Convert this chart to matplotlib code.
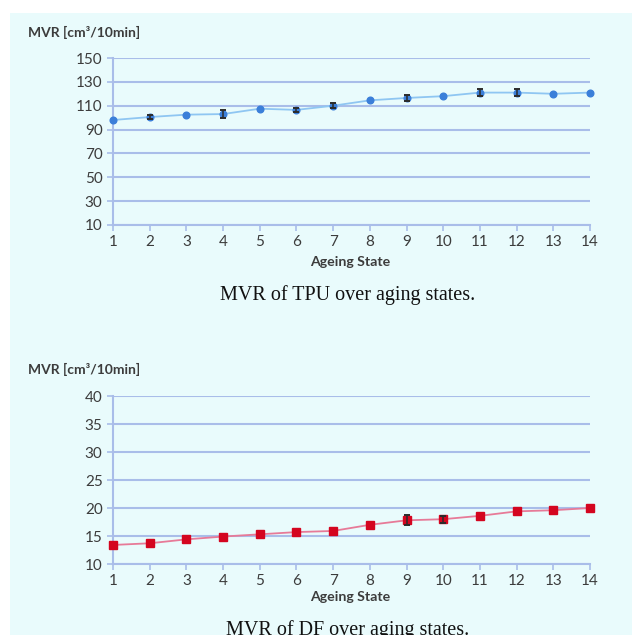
import matplotlib.pyplot as plt
from matplotlib.patches import Rectangle

# ageing states
states = list(range(1, 15))

# TPU melt volume rate and error bars (0 = no visible bar)
tpu_mvr = [98, 100.5, 102.5, 103, 107.5, 106.5, 110, 114.5, 116.5, 118, 121, 121, 120, 121]
tpu_err = [0, 2, 0, 3, 0, 2, 2, 0, 2.5, 0, 3, 3, 0, 0]

# DF melt volume rate and error bars
df_mvr = [13.4, 13.7, 14.4, 14.9, 15.3, 15.7, 15.9, 17.0, 17.8, 18.0, 18.6, 19.4, 19.6, 20.0]
df_err = [0, 0, 0, 0, 0, 0, 0, 0, 0.9, 0.6, 0, 0, 0, 0]

tpu_ticks = [10, 30, 50, 70, 90, 110, 130, 150]
df_ticks = [10, 15, 20, 25, 30, 35, 40]

bg = "#e9fbfc"
grid_col = "#a9bde9"
txt_col = "#3c3c3c"

fig = plt.figure(figsize=(6.32, 6.35), dpi=100)
fig.patches.append(Rectangle((10 / 632, 0), 1, 1 - 13 / 635, transform=fig.transFigure,
                             facecolor=bg, edgecolor="none", zorder=-10))


def draw_panel(rect, y, err, ticks, mcol, lcol, marker, ms, caption, label_y, xlab_y, cap_y):
    ax = fig.add_axes(rect)
    ax.set_facecolor("none")
    ax.plot(states, y, color=lcol, lw=1.3, zorder=2)
    ax.plot(states, y, ls="none", marker=marker, color=mcol, ms=ms, zorder=3, clip_on=False)
    # only the points that have a visible error bar
    idx = [i for i, e in enumerate(err) if e > 0]
    ax.errorbar([states[i] for i in idx], [y[i] for i in idx], yerr=[err[i] for i in idx],
                fmt="none", ecolor="#2b2b2b", elinewidth=1.1, capsize=2.5, capthick=1.4,
                zorder=4)
    ax.set_xlim(1, 14)
    ax.set_ylim(ticks[0], ticks[-1])
    ax.set_xticks(states)
    ax.set_yticks(ticks)
    ax.grid(axis="y", color=grid_col, lw=1.5)
    for s in ["top", "right"]:
        ax.spines[s].set_visible(False)
    for s in ["left", "bottom"]:
        ax.spines[s].set_color(grid_col)
        ax.spines[s].set_linewidth(1.5)
    ax.tick_params(colors=grid_col, labelcolor=txt_col, labelsize=11, length=4, width=1.2)
    for t in ax.get_xticklabels() + ax.get_yticklabels():
        t.set_family("Lato")
    fig.text(28 / 632, 1 - label_y / 635, "MVR [cm³/10min]", family="Lato", weight="bold",
             fontsize=10, color=txt_col, va="center")
    fig.text(350 / 632, 1 - xlab_y / 635, "Ageing State", family="Lato", weight="bold",
             fontsize=10.2, color=txt_col, ha="center", va="center")
    fig.text(348 / 632, 1 - cap_y / 635, caption, family="Liberation Serif",
             fontsize=14.5, color="#111111", ha="center", va="center")
    return ax


draw_panel([113 / 632, 1 - 225 / 635, 477 / 632, 167 / 635], tpu_mvr, tpu_err, tpu_ticks,
           "#3b7fd9", "#8fc6f2", "o", 4.8, "MVR of TPU over aging states.", 32, 262, 295)
draw_panel([113 / 632, 1 - 564 / 635, 477 / 632, 168 / 635], df_mvr, df_err, df_ticks,
           "#d4051f", "#e77a98", "s", 5.2, "MVR of DF over aging states.", 369, 597, 630)

fig.savefig("out.png", dpi=100)
